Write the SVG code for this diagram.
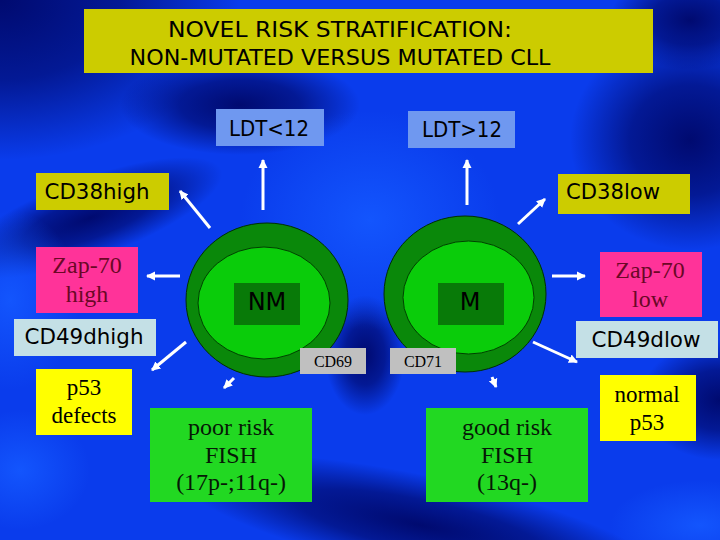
<svg xmlns="http://www.w3.org/2000/svg" width="720" height="540" viewBox="0 0 720 540">
<defs>
<radialGradient id="dark"><stop offset="0" stop-color="#000a70" stop-opacity="1"/><stop offset="0.5" stop-color="#000a70" stop-opacity="0.7"/><stop offset="1" stop-color="#000a70" stop-opacity="0"/></radialGradient>
<radialGradient id="bright"><stop offset="0" stop-color="#1458ff" stop-opacity="0.9"/><stop offset="1" stop-color="#1458ff" stop-opacity="0"/></radialGradient>
<marker id="ah" markerWidth="12" markerHeight="12" refX="8" refY="5" orient="auto" markerUnits="userSpaceOnUse"><path d="M0,0.5 L9,5 L0,9.5 z" fill="#ffffff"/></marker>
<style>
.box{stroke:none}
.comic{font-family:"DejaVu Sans","Liberation Sans",sans-serif;fill:#000;text-anchor:middle}
.serif{font-family:"Liberation Serif","Times New Roman",serif;text-anchor:middle}
.conn line{stroke:#ffffff;stroke-width:3;marker-end:url(#ah)}
.outer{fill:#0a880a;stroke:#003000;stroke-width:1}
.inner{fill:#0acc0a;stroke:#004000;stroke-width:1}
.core{fill:#087a08}
.dk{fill:url(#dark)}
.br{fill:url(#bright)}
</style>
</defs>
<rect width="720" height="540" fill="#0a3cec"/>
<ellipse class="dk" cx="0" cy="0" rx="240" ry="160"/>
<ellipse class="dk" cx="240" cy="105" rx="120" ry="50"/>
<ellipse class="dk" cx="90" cy="218" rx="140" ry="40" transform="rotate(-20 90 218)"/>
<ellipse class="dk" cx="690" cy="140" rx="120" ry="110"/>
<ellipse class="dk" cx="420" cy="525" rx="250" ry="50" transform="rotate(12 420 525)"/>
<ellipse class="dk" cx="720" cy="400" rx="80" ry="60"/>
<ellipse class="dk" cx="365" cy="355" rx="40" ry="60"/>
<ellipse class="dk" cx="690" cy="20" rx="80" ry="50"/>
<ellipse class="br" cx="370" cy="220" rx="130" ry="110"/>
<ellipse class="br" cx="10" cy="300" rx="70" ry="90"/>
<ellipse class="br" cx="700" cy="525" rx="90" ry="45"/>
<ellipse class="br" cx="20" cy="470" rx="70" ry="60"/>

<g id="title">
<rect class="box" x="84" y="9" width="569" height="64" fill="#cccc00"/>
<text class="comic" x="340" y="37" font-size="21" textLength="344" lengthAdjust="spacingAndGlyphs">NOVEL RISK STRATIFICATION:</text>
<text class="comic" x="340" y="65" font-size="21" textLength="421" lengthAdjust="spacingAndGlyphs">NON-MUTATED VERSUS MUTATED CLL</text>
</g>

<g id="ldt-lt12">
<rect class="box" x="216" y="109" width="108" height="37" fill="#6f98f0"/>
<text class="comic" x="269" y="136" font-size="22" textLength="80" lengthAdjust="spacingAndGlyphs">LDT&lt;12</text>
</g>
<g id="ldt-gt12">
<rect class="box" x="408" y="111" width="107" height="37" fill="#6f98f0"/>
<text class="comic" x="462" y="137" font-size="22" textLength="80" lengthAdjust="spacingAndGlyphs">LDT&gt;12</text>
</g>

<g id="cd38high">
<rect class="box" x="36" y="173" width="133" height="37" fill="#cccc00"/>
<text class="comic" x="97" y="199" font-size="22" textLength="105" lengthAdjust="spacingAndGlyphs">CD38high</text>
</g>
<g id="cd38low">
<rect class="box" x="558" y="174" width="132" height="40" fill="#cccc00"/>
<text class="comic" x="613" y="199" font-size="22" textLength="94" lengthAdjust="spacingAndGlyphs">CD38low</text>
</g>

<g id="zap70high">
<rect class="box" x="36" y="247" width="102" height="66" fill="#ff3399"/>
<text class="serif" x="87" y="273" font-size="24" fill="#6a0826">Zap-70</text>
<text class="serif" x="87" y="302" font-size="24" fill="#6a0826">high</text>
</g>
<g id="zap70low">
<rect class="box" x="600" y="252" width="102" height="65" fill="#ff3399"/>
<text class="serif" x="650" y="278" font-size="24" fill="#6a0826">Zap-70</text>
<text class="serif" x="650" y="307" font-size="24" fill="#6a0826">low</text>
</g>

<g id="cd49dhigh">
<rect class="box" x="14" y="319" width="142" height="37" fill="#c4e0e6"/>
<text class="comic" x="84" y="344" font-size="22" textLength="119" lengthAdjust="spacingAndGlyphs">CD49dhigh</text>
</g>
<g id="cd49dlow">
<rect class="box" x="576" y="321" width="142" height="37" fill="#c4e0e6"/>
<text class="comic" x="646" y="347" font-size="22" textLength="109" lengthAdjust="spacingAndGlyphs">CD49dlow</text>
</g>

<g id="nm">
<ellipse class="outer" cx="267" cy="300" rx="81" ry="77"/>
<ellipse class="inner" cx="264" cy="303" rx="66" ry="56"/>
<rect class="core" x="234" y="283" width="66" height="42"/>
<text class="comic" x="267" y="310" font-size="24">NM</text>
</g>
<g id="m">
<ellipse class="outer" cx="465" cy="294" rx="81" ry="78"/>
<ellipse class="inner" cx="468.5" cy="297.5" rx="65.5" ry="56.5"/>
<rect class="core" x="438" y="283" width="66" height="42"/>
<text class="comic" x="470" y="310" font-size="24">M</text>
</g>

<g id="cd69">
<rect class="box" x="300" y="348" width="66" height="26" fill="#c0c0c0"/>
<text class="serif" x="333" y="367" font-size="16" fill="#000">CD69</text>
</g>
<g id="cd71">
<rect class="box" x="390" y="348" width="66" height="26" fill="#c0c0c0"/>
<text class="serif" x="423" y="367" font-size="16" fill="#000">CD71</text>
</g>

<g id="p53defects">
<rect class="box" x="36" y="369" width="96" height="66" fill="#ffff00"/>
<text class="serif" x="84" y="395" font-size="23" fill="#000">p53</text>
<text class="serif" x="84" y="423" font-size="23" fill="#000">defects</text>
</g>
<g id="normalp53">
<rect class="box" x="600" y="375" width="96" height="66" fill="#ffff00"/>
<text class="serif" x="647" y="402" font-size="23" fill="#000">normal</text>
<text class="serif" x="647" y="430" font-size="23" fill="#000">p53</text>
</g>

<g id="poorrisk">
<rect class="box" x="150" y="408" width="162" height="94" fill="#22d822"/>
<text class="serif" x="231" y="435" font-size="24" fill="#061806">poor risk</text>
<text class="serif" x="231" y="463" font-size="24" fill="#061806">FISH</text>
<text class="serif" x="231" y="490" font-size="24" fill="#061806">(17p-;11q-)</text>
</g>
<g id="goodrisk">
<rect class="box" x="426" y="408" width="162" height="94" fill="#22d822"/>
<text class="serif" x="507" y="435" font-size="24" fill="#061806">good risk</text>
<text class="serif" x="507" y="463" font-size="24" fill="#061806">FISH</text>
<text class="serif" x="507" y="490" font-size="24" fill="#061806">(13q-)</text>
</g>

<g id="connectors" class="conn">
<line x1="263" y1="210" x2="263" y2="160"/>
<line x1="467" y1="205" x2="467" y2="160"/>
<line x1="210" y1="228" x2="180" y2="191"/>
<line x1="180" y1="276" x2="147" y2="276"/>
<line x1="186" y1="342" x2="152" y2="370"/>
<line x1="234" y1="378" x2="224" y2="388"/>
<line x1="518" y1="224" x2="545" y2="199"/>
<line x1="552" y1="276" x2="585" y2="276"/>
<line x1="533" y1="342" x2="577" y2="362"/>
<line x1="492" y1="377" x2="496" y2="387"/>
</g>
</svg>
